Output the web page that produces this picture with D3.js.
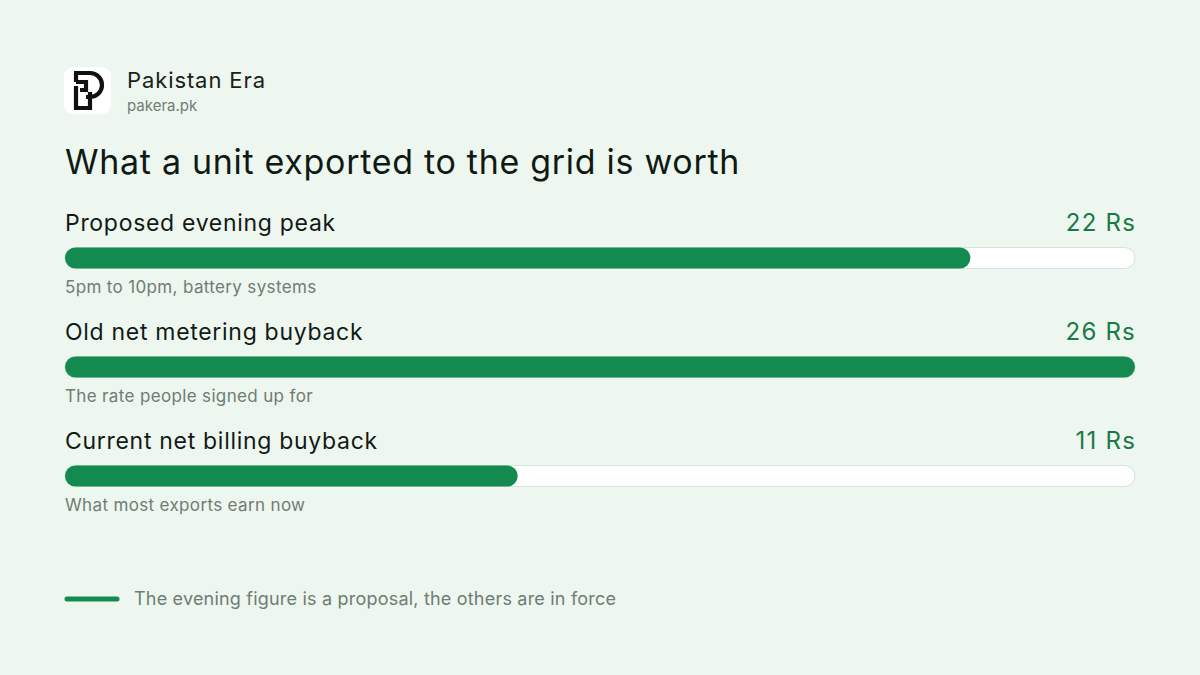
<!DOCTYPE html>
<html>
<head>
<meta charset="utf-8">
<script src="https://cdn.jsdelivr.net/npm/d3@7"></script>
<style>
  html, body { margin: 0; padding: 0; background: #edf6ef; }
  svg { display: block; font-family: Inter, "Noto Sans", sans-serif; }
</style>
</head>
<body>
<div id="chart"></div>
<script>
// chart data
const categories = ["Proposed evening peak", "Old net metering buyback", "Current net billing buyback"];
const values = [22, 26, 11];
const notes = ["5pm to 10pm, battery systems", "The rate people signed up for", "What most exports earn now"];
const unit = "Rs";
const title = "What a unit exported to the grid is worth";
const footnote = "The evening figure is a proposal, the others are in force";

const width = 1200, height = 675;
const margin = { left: 65, right: 65 };
const green = "#138a4f";

const svg = d3.select("#chart").append("svg")
  .attr("width", width).attr("height", height);

svg.append("rect").attr("width", width).attr("height", height).attr("fill", "#edf6ef");

// brand block
const logo = svg.append("g").attr("transform", "translate(64,67)");
logo.append("rect").attr("width", 47).attr("height", 47).attr("rx", 9).attr("fill", "#ffffff");
logo.append("path")
  .attr("d", "M10,6 H26 A12,12 0 0 1 26,30 H22 M12,6 V15 M12,15 H22 V23 H16 M12,19 V41 H26 V25")
  .attr("fill", "none").attr("stroke", "#111").attr("stroke-width", 4.2)
  .attr("stroke-linejoin", "miter");

svg.append("text").attr("x", 127).attr("y", 88)
  .attr("font-size", 22).attr("letter-spacing", 0.9).attr("fill", "#1a211c").text("Pakistan Era");
svg.append("text").attr("x", 127).attr("y", 111)
  .attr("font-size", 15).attr("fill", "#6f7d73").text("pakera.pk");

svg.append("text").attr("x", 65).attr("y", 174)
  .attr("font-size", 34).attr("letter-spacing", 0.7).attr("fill", "#101a14").text(title);

// scales
const x = d3.scaleLinear()
  .domain([0, d3.max(values)])
  .range([margin.left, width - margin.right]);

const y = d3.scaleBand()
  .domain(categories)
  .range([203, 530]);

const barH = 21;

const rows = svg.selectAll("g.row")
  .data(categories.map((c, i) => ({ cat: c, value: values[i], note: notes[i] })))
  .join("g")
  .attr("class", "row")
  .attr("transform", d => `translate(0,${y(d.cat)})`);

rows.append("text")
  .attr("x", margin.left).attr("y", 28)
  .attr("font-size", 23).attr("letter-spacing", 0.7).attr("fill", "#121a15")
  .text(d => d.cat);

rows.append("text")
  .attr("x", width - margin.right + 1).attr("y", 28)
  .attr("text-anchor", "end")
  .attr("font-size", 24).attr("letter-spacing", 1.2).attr("fill", "#1a7a47")
  .text(d => `${d.value} ${unit}`);

// track
rows.append("rect")
  .attr("x", x(0)).attr("y", 44.5)
  .attr("width", x.range()[1] - x(0)).attr("height", barH)
  .attr("rx", barH / 2)
  .attr("fill", "#ffffff").attr("stroke", "#d3e3d7").attr("stroke-width", 1);

// value bar
rows.append("rect")
  .attr("x", x(0)).attr("y", 44.5)
  .attr("width", d => x(d.value) - x(0)).attr("height", barH)
  .attr("rx", barH / 2)
  .attr("fill", green);

rows.append("text")
  .attr("x", margin.left).attr("y", 90)
  .attr("font-size", 17).attr("letter-spacing", 0.35).attr("fill", "#6f7d73")
  .text(d => d.note);

// footnote
svg.append("line")
  .attr("x1", 67).attr("x2", 117).attr("y1", 599).attr("y2", 599)
  .attr("stroke", green).attr("stroke-width", 5).attr("stroke-linecap", "round");
svg.append("text").attr("x", 134).attr("y", 605)
  .attr("font-size", 18).attr("letter-spacing", 0.2).attr("fill", "#6f7d73").text(footnote);
</script>
</body>
</html>
